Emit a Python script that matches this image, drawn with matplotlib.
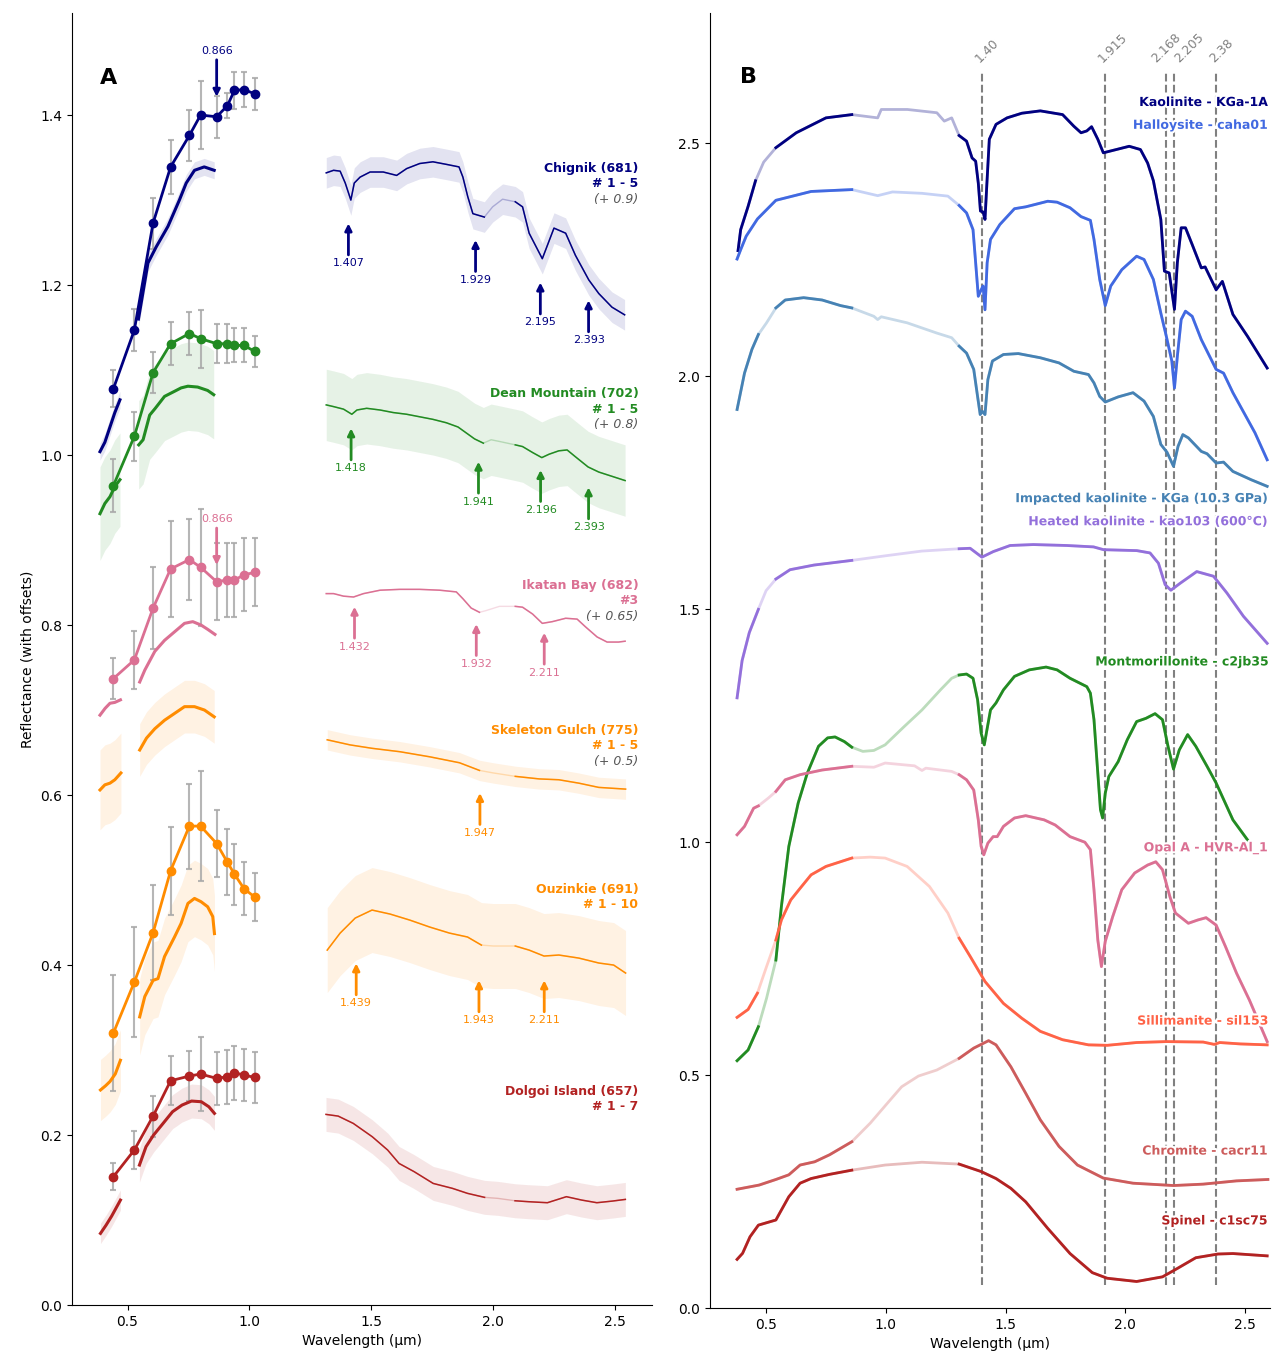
import matplotlib
matplotlib.use("Agg")
import matplotlib.pyplot as plt
import matplotlib.patheffects as pe
import numpy as np

# Mastcam-Z filter centres (um)
MZ_WL = [0.442, 0.528, 0.605, 0.677, 0.754, 0.800, 0.866, 0.910, 0.939, 0.978, 1.022]

# ---------------- panel A : field spectra (raw reflectance, offsets added when drawn)
# Chignik (681), # 1 - 5, +0.9
CHIG_MS = [0.178, 0.247, 0.373, 0.439, 0.476, 0.500, 0.498, 0.511, 0.529, 0.530, 0.525]
CHIG_ERR = [0.022, 0.025, 0.030, 0.032, 0.030, 0.040, 0.025, 0.015, 0.022, 0.021, 0.019]
CHIG_VIS1 = [(0.387, 0.104), (0.407, 0.115), (0.428, 0.133), (0.448, 0.150), (0.469, 0.165)]
CHIG_VIS2 = [(0.545, 0.260), (0.584, 0.326), (0.618, 0.345), (0.666, 0.369), (0.713, 0.400),
             (0.741, 0.420), (0.775, 0.435), (0.815, 0.439), (0.856, 0.435)]
CHIG_NIR = [(1.316, 0.432), (1.346, 0.435), (1.373, 0.434), (1.394, 0.420), (1.417, 0.400),
            (1.431, 0.420), (1.455, 0.427), (1.496, 0.433), (1.550, 0.433), (1.605, 0.429),
            (1.646, 0.437), (1.700, 0.443), (1.754, 0.445), (1.809, 0.442), (1.861, 0.439),
            (1.877, 0.427), (1.897, 0.404), (1.918, 0.384), (1.965, 0.380), (1.999, 0.392),
            (2.040, 0.401), (2.092, 0.398), (2.122, 0.392), (2.149, 0.361), (2.203, 0.331),
            (2.251, 0.367), (2.299, 0.361), (2.339, 0.335), (2.394, 0.306), (2.435, 0.290),
            (2.489, 0.274), (2.541, 0.265)]
CHIG_SD = (0.010, 0.010, 0.018)
CHIG_BANDS = [(1.407, 1.2725), (1.929, 1.253), (2.195, 1.203), (2.393, 1.182)]

# Dean Mountain (702), # 1 - 5, +0.8
DEAN_MS = [0.164, 0.222, 0.297, 0.331, 0.343, 0.337, 0.331, 0.331, 0.329, 0.329, 0.322]
DEAN_ERR = [0.031, 0.029, 0.024, 0.025, 0.025, 0.034, 0.023, 0.023, 0.020, 0.020, 0.018]
DEAN_VIS1 = [(0.387, 0.131), (0.407, 0.143), (0.428, 0.151), (0.448, 0.163), (0.469, 0.171)]
DEAN_VIS2 = [(0.546, 0.212), (0.564, 0.218), (0.591, 0.247), (0.614, 0.255), (0.652, 0.269),
             (0.693, 0.275), (0.720, 0.279), (0.748, 0.281), (0.788, 0.280), (0.829, 0.276),
             (0.854, 0.271)]
DEAN_NIR = [(1.316, 0.259), (1.346, 0.257), (1.387, 0.254), (1.421, 0.248), (1.442, 0.253),
            (1.482, 0.255), (1.537, 0.253), (1.591, 0.250), (1.646, 0.248), (1.700, 0.245),
            (1.754, 0.242), (1.809, 0.238), (1.857, 0.233), (1.891, 0.226), (1.925, 0.219),
            (1.961, 0.214), (1.993, 0.218), (2.027, 0.216), (2.092, 0.212), (2.122, 0.210),
            (2.163, 0.203), (2.201, 0.197), (2.231, 0.201), (2.271, 0.205), (2.305, 0.206),
            (2.339, 0.198), (2.391, 0.186), (2.435, 0.180), (2.489, 0.175), (2.543, 0.170)]
DEAN_SD = (0.055, 0.052, 0.042)
DEAN_BANDS = [(1.418, 1.0314), (1.941, 0.9922), (2.196, 0.9824), (2.393, 0.962)]

# Ikatan Bay (682), #3, +0.65
IKAT_MS = [0.087, 0.109, 0.170, 0.216, 0.227, 0.218, 0.201, 0.203, 0.203, 0.209, 0.212]
IKAT_ERR = [0.024, 0.034, 0.048, 0.057, 0.048, 0.069, 0.045, 0.043, 0.043, 0.043, 0.040]
IKAT_VIS1 = [(0.387, 0.044), (0.408, 0.052), (0.428, 0.058), (0.448, 0.059), (0.471, 0.062)]
IKAT_VIS2 = [(0.550, 0.083), (0.571, 0.097), (0.612, 0.119), (0.652, 0.132), (0.693, 0.142),
             (0.734, 0.152), (0.768, 0.154), (0.802, 0.150), (0.829, 0.145), (0.859, 0.139)]
IKAT_NIR = [(1.316, 0.187), (1.346, 0.187), (1.387, 0.184), (1.428, 0.183), (1.469, 0.187),
            (1.537, 0.191), (1.618, 0.192), (1.700, 0.192), (1.782, 0.191), (1.850, 0.189),
            (1.877, 0.181), (1.911, 0.170), (1.945, 0.165), (1.972, 0.167), (2.027, 0.172),
            (2.092, 0.172), (2.122, 0.171), (2.163, 0.163), (2.203, 0.152), (2.244, 0.154),
            (2.299, 0.158), (2.346, 0.157), (2.380, 0.148), (2.428, 0.136), (2.469, 0.130),
            (2.516, 0.130), (2.543, 0.131)]
IKAT_SD = (0.0, 0.0, 0.0)
IKAT_BANDS = [(1.432, 0.8216), (1.932, 0.8012), (2.211, 0.791)]

# Skeleton Gulch (775), # 1 - 5, +0.5 (no multispectral data)
SKEL_VIS1 = [(0.387, 0.106), (0.407, 0.112), (0.428, 0.114), (0.448, 0.118), (0.473, 0.126)]
SKEL_VIS2 = [(0.550, 0.153), (0.578, 0.167), (0.612, 0.178), (0.652, 0.188), (0.693, 0.196),
             (0.734, 0.204), (0.775, 0.204), (0.816, 0.200), (0.856, 0.192)]
SKEL_NIR = [(1.320, 0.165), (1.414, 0.159), (1.504, 0.155), (1.618, 0.151), (1.741, 0.145),
            (1.863, 0.138), (1.945, 0.129), (2.002, 0.126), (2.092, 0.122), (2.190, 0.119),
            (2.271, 0.118), (2.353, 0.114), (2.435, 0.109), (2.545, 0.107)]
SKEL_SD = (0.047, 0.031, 0.012)
SKEL_BANDS = [(1.947, 0.6024)]

# Ouzinkie (691), # 1 - 10
OUZI_MS = [0.320, 0.380, 0.438, 0.511, 0.5635, 0.5635, 0.543, 0.521, 0.507, 0.490, 0.480]
OUZI_ERR = [0.068, 0.065, 0.056, 0.052, 0.050, 0.065, 0.039, 0.039, 0.036, 0.031, 0.028]
OUZI_VIS1 = [(0.389, 0.253), (0.410, 0.258), (0.428, 0.263), (0.450, 0.272), (0.471, 0.288)]
OUZI_VIS2 = [(0.550, 0.339), (0.571, 0.363), (0.605, 0.382), (0.625, 0.384), (0.652, 0.410),
             (0.693, 0.433), (0.720, 0.449), (0.748, 0.4725), (0.775, 0.4784), (0.802, 0.4745),
             (0.829, 0.4686), (0.850, 0.457), (0.857, 0.437)]
OUZI_NIR = [(1.320, 0.4176), (1.373, 0.4376), (1.435, 0.4553), (1.504, 0.4647), (1.578, 0.460),
            (1.659, 0.4529), (1.741, 0.4447), (1.822, 0.4376), (1.896, 0.433), (1.953, 0.4235),
            (2.002, 0.4224), (2.092, 0.4224), (2.149, 0.4176), (2.210, 0.4106), (2.271, 0.4118),
            (2.353, 0.4082), (2.435, 0.4024), (2.496, 0.400), (2.545, 0.3906)]
OUZI_SD = (0.036, 0.045, 0.050)
OUZI_BANDS = [(1.439, 0.402), (1.943, 0.382), (2.211, 0.382)]

# Dolgoi Island (657), # 1 - 7
DOLG_MS = [0.151, 0.1824, 0.2223, 0.2639, 0.2694, 0.2718, 0.2667, 0.2686, 0.2733, 0.2706, 0.2678]
DOLG_ERR = [0.016, 0.022, 0.024, 0.029, 0.029, 0.043, 0.031, 0.032, 0.032, 0.031, 0.030]
DOLG_VIS1 = [(0.389, 0.0843), (0.412, 0.094), (0.435, 0.1047), (0.471, 0.1235)]
DOLG_VIS2 = [(0.549, 0.1647), (0.576, 0.1863), (0.607, 0.200), (0.646, 0.2137), (0.685, 0.2275),
             (0.724, 0.2353), (0.763, 0.240), (0.803, 0.2392), (0.834, 0.2333), (0.857, 0.2255)]
DOLG_NIR = [(1.315, 0.2243), (1.365, 0.2223), (1.427, 0.2137), (1.505, 0.198), (1.568, 0.1824),
            (1.615, 0.1666), (1.677, 0.1569), (1.755, 0.1431), (1.834, 0.1373), (1.896, 0.1314),
            (1.966, 0.1267), (2.021, 0.1255), (2.091, 0.1227), (2.146, 0.1216), (2.224, 0.1204),
            (2.302, 0.1275), (2.365, 0.1235), (2.427, 0.1204), (2.490, 0.1223), (2.544, 0.1243)]
DOLG_SD = (0.012, 0.020, 0.020)

# 0.866 um feature marked on the multispectral curves (arrow head y)
CHIG_866 = 1.4215
IKAT_866 = 0.8706

# ---------------- panel B : library spectra (with offsets already applied)
KAOLINITE = [(0.383, 2.270), (0.394, 2.315), (0.425, 2.365), (0.456, 2.420), (0.490, 2.460),
             (0.541, 2.491), (0.626, 2.523), (0.750, 2.555), (0.858, 2.562), (0.966, 2.555),
             (0.981, 2.573), (1.090, 2.573), (1.213, 2.566), (1.244, 2.548), (1.275, 2.555),
             (1.306, 2.517), (1.337, 2.505), (1.360, 2.469), (1.375, 2.462), (1.386, 2.415),
             (1.395, 2.355), (1.406, 2.353), (1.414, 2.337), (1.422, 2.415), (1.432, 2.509),
             (1.460, 2.541), (1.506, 2.555), (1.568, 2.565), (1.645, 2.570), (1.738, 2.562),
             (1.785, 2.537), (1.815, 2.523), (1.839, 2.527), (1.859, 2.536), (1.885, 2.509),
             (1.908, 2.480), (1.939, 2.484), (2.016, 2.494), (2.063, 2.487), (2.093, 2.458),
             (2.117, 2.420), (2.148, 2.337), (2.163, 2.226), (2.183, 2.222), (2.205, 2.144),
             (2.217, 2.244), (2.233, 2.319), (2.251, 2.319), (2.279, 2.283), (2.317, 2.233),
             (2.333, 2.235), (2.379, 2.186), (2.405, 2.204), (2.449, 2.133), (2.510, 2.086),
             (2.592, 2.018)]
HALLOYSITE = [(0.379, 2.252), (0.394, 2.272), (0.417, 2.301), (0.464, 2.338), (0.541, 2.378),
              (0.688, 2.397), (0.858, 2.401), (0.966, 2.388), (1.028, 2.396), (1.151, 2.393),
              (1.259, 2.387), (1.306, 2.367), (1.337, 2.351), (1.364, 2.315), (1.375, 2.244),
              (1.386, 2.172), (1.398, 2.186), (1.406, 2.194), (1.414, 2.143), (1.423, 2.244),
              (1.437, 2.294), (1.476, 2.326), (1.537, 2.360), (1.584, 2.364), (1.676, 2.376),
              (1.715, 2.374), (1.769, 2.362), (1.815, 2.343), (1.854, 2.335), (1.869, 2.294),
              (1.893, 2.208), (1.916, 2.152), (1.939, 2.194), (1.985, 2.229), (2.047, 2.258),
              (2.078, 2.251), (2.117, 2.208), (2.148, 2.136), (2.171, 2.086), (2.194, 2.033),
              (2.205, 1.975), (2.217, 2.043), (2.233, 2.122), (2.251, 2.140), (2.279, 2.129),
              (2.317, 2.079), (2.379, 2.015), (2.410, 2.007), (2.449, 1.965), (2.495, 1.922),
              (2.541, 1.879), (2.592, 1.821)]
IMPACTED = [(0.379, 1.929), (0.410, 2.007), (0.441, 2.058), (0.468, 2.090), (0.502, 2.115),
            (0.541, 2.147), (0.580, 2.164), (0.657, 2.169), (0.734, 2.164), (0.811, 2.152),
            (0.858, 2.147), (0.950, 2.129), (0.966, 2.122), (0.981, 2.128), (1.089, 2.115),
            (1.213, 2.093), (1.275, 2.083), (1.306, 2.065), (1.337, 2.050), (1.367, 2.015),
            (1.383, 1.957), (1.394, 1.918), (1.403, 1.925), (1.414, 1.918), (1.426, 1.993),
            (1.445, 2.033), (1.491, 2.047), (1.553, 2.049), (1.645, 2.040), (1.723, 2.029),
            (1.785, 2.011), (1.846, 2.004), (1.869, 1.986), (1.893, 1.957), (1.916, 1.945),
            (1.970, 1.956), (2.032, 1.965), (2.078, 1.947), (2.117, 1.914), (2.148, 1.854),
            (2.174, 1.837), (2.201, 1.807), (2.220, 1.850), (2.240, 1.875), (2.263, 1.868),
            (2.317, 1.839), (2.341, 1.834), (2.379, 1.814), (2.410, 1.816), (2.449, 1.796),
            (2.526, 1.778), (2.592, 1.764)]
HEATED = [(0.379, 1.310), (0.400, 1.390), (0.430, 1.450), (0.468, 1.500), (0.500, 1.540),
          (0.541, 1.565), (0.600, 1.585), (0.700, 1.595), (0.858, 1.605), (1.000, 1.615),
          (1.150, 1.625), (1.306, 1.630), (1.352, 1.631), (1.401, 1.612), (1.449, 1.624),
          (1.519, 1.637), (1.616, 1.639), (1.755, 1.637), (1.867, 1.634), (1.909, 1.628),
          (2.048, 1.626), (2.103, 1.621), (2.138, 1.599), (2.166, 1.553), (2.190, 1.541),
          (2.229, 1.556), (2.298, 1.581), (2.368, 1.571), (2.424, 1.535), (2.493, 1.485),
          (2.592, 1.427)]
MONTMORILLONITE = [(0.379, 0.531), (0.425, 0.554), (0.468, 0.604), (0.502, 0.665), (0.541, 0.747),
                   (0.564, 0.862), (0.595, 0.991), (0.634, 1.084), (0.672, 1.148), (0.719, 1.206),
                   (0.757, 1.224), (0.788, 1.226), (0.827, 1.216), (0.858, 1.204), (0.904, 1.195),
                   (0.950, 1.197), (0.997, 1.209), (1.074, 1.247), (1.151, 1.284), (1.228, 1.327),
                   (1.275, 1.352), (1.306, 1.359), (1.337, 1.361), (1.364, 1.352), (1.383, 1.306),
                   (1.398, 1.234), (1.411, 1.209), (1.422, 1.241), (1.437, 1.284), (1.460, 1.299),
                   (1.491, 1.327), (1.537, 1.356), (1.599, 1.370), (1.669, 1.376), (1.715, 1.370),
                   (1.769, 1.352), (1.839, 1.334), (1.854, 1.320), (1.869, 1.263), (1.885, 1.148),
                   (1.896, 1.070), (1.905, 1.052), (1.916, 1.105), (1.931, 1.141), (1.970, 1.173),
                   (2.008, 1.220), (2.047, 1.259), (2.086, 1.266), (2.124, 1.276), (2.155, 1.263),
                   (2.178, 1.206), (2.201, 1.157), (2.225, 1.198), (2.260, 1.231), (2.294, 1.206),
                   (2.341, 1.163), (2.379, 1.127), (2.449, 1.048), (2.510, 1.005)]
OPAL = [(0.379, 1.016), (0.410, 1.034), (0.448, 1.073), (0.468, 1.078), (0.510, 1.095),
        (0.541, 1.109), (0.580, 1.134), (0.642, 1.145), (0.734, 1.155), (0.858, 1.163),
        (0.950, 1.161), (0.966, 1.164), (0.997, 1.170), (1.120, 1.164), (1.151, 1.154),
        (1.167, 1.159), (1.275, 1.152), (1.306, 1.145), (1.337, 1.134), (1.367, 1.112),
        (1.386, 1.048), (1.398, 0.991), (1.409, 0.973), (1.426, 0.998), (1.448, 1.012),
        (1.465, 1.012), (1.491, 1.034), (1.537, 1.052), (1.584, 1.057), (1.661, 1.048),
        (1.707, 1.037), (1.769, 1.012), (1.831, 1.000), (1.854, 0.984), (1.869, 0.898),
        (1.885, 0.790), (1.900, 0.733), (1.916, 0.787), (1.947, 0.840), (1.985, 0.898),
        (2.039, 0.934), (2.093, 0.951), (2.127, 0.958), (2.155, 0.941), (2.186, 0.883),
        (2.209, 0.848), (2.263, 0.826), (2.302, 0.833), (2.337, 0.838), (2.379, 0.822),
        (2.418, 0.776), (2.464, 0.719), (2.518, 0.661), (2.592, 0.572)]
SILLIMANITE = [(0.379, 0.624), (0.425, 0.641), (0.464, 0.676), (0.500, 0.730), (0.541, 0.790),
               (0.564, 0.833), (0.603, 0.876), (0.642, 0.901), (0.688, 0.930), (0.750, 0.948),
               (0.858, 0.966), (0.935, 0.968), (0.997, 0.966), (1.089, 0.948), (1.182, 0.905),
               (1.259, 0.848), (1.306, 0.794), (1.352, 0.755), (1.414, 0.701), (1.491, 0.654),
               (1.568, 0.622), (1.645, 0.594), (1.738, 0.576), (1.846, 0.565), (1.924, 0.564),
               (2.047, 0.570), (2.171, 0.572), (2.325, 0.571), (2.371, 0.566), (2.394, 0.570),
               (2.480, 0.567), (2.592, 0.565)]
CHROMITE = [(0.379, 0.255), (0.471, 0.264), (0.541, 0.276), (0.595, 0.286), (0.642, 0.307),
            (0.703, 0.314), (0.765, 0.329), (0.858, 0.357), (0.935, 0.397), (1.012, 0.443),
            (1.066, 0.475), (1.136, 0.498), (1.213, 0.511), (1.306, 0.536), (1.367, 0.558),
            (1.429, 0.574), (1.460, 0.565), (1.522, 0.518), (1.584, 0.461), (1.645, 0.404),
            (1.723, 0.347), (1.800, 0.307), (1.908, 0.279), (2.032, 0.268), (2.201, 0.263),
            (2.325, 0.266), (2.464, 0.273), (2.595, 0.276)]
SPINEL = [(0.379, 0.1045), (0.402, 0.1175), (0.433, 0.153), (0.468, 0.178), (0.541, 0.189),
          (0.556, 0.203), (0.595, 0.239), (0.642, 0.268), (0.688, 0.278), (0.765, 0.287),
          (0.858, 0.296), (0.997, 0.307), (1.151, 0.313), (1.306, 0.309), (1.398, 0.293),
          (1.460, 0.278), (1.522, 0.257), (1.584, 0.228), (1.676, 0.171), (1.769, 0.117),
          (1.862, 0.076), (1.924, 0.064), (2.047, 0.057), (2.155, 0.067), (2.217, 0.085),
          (2.294, 0.108), (2.387, 0.116), (2.449, 0.117), (2.592, 0.112)]

LIB_NAMES = ["Kaolinite - KGa-1A", "Halloysite - caha01", "Impacted kaolinite - KGa (10.3 GPa)",
             "Heated kaolinite - kao103 (600°C)", "Montmorillonite - c2jb35", "Opal A - HVR-Al_1",
             "Sillimanite - sil153", "Chromite - cacr11", "Spinel - c1sc75"]
LIB_LABEL_Y = [2.588, 2.539, 1.7375, 1.688, 1.387, 0.988, 0.616, 0.337, 0.187]
FEATURES = [1.40, 1.915, 2.168, 2.205, 2.38]
FEATURE_TXT = ["1.40", "1.915", "2.168", "2.205", "2.38"]
FEATURE_NUDGE = [0.0, 0.0, -0.03, 0.03, 0.0]   # keep the two close labels apart

# ---------------------------------------------------------------------------
sites = [
    dict(vis1=CHIG_VIS1, vis2=CHIG_VIS2, nir=CHIG_NIR, sd=CHIG_SD, ms=CHIG_MS, err=CHIG_ERR,
         off=0.9, c="navy", bands=CHIG_BANDS,
         txt=[("Chignik (681)", "bold"), ("# 1 - 5", "bold"), ("(+ 0.9)", "italic")], ty=1.3376),
    dict(vis1=DEAN_VIS1, vis2=DEAN_VIS2, nir=DEAN_NIR, sd=DEAN_SD, ms=DEAN_MS, err=DEAN_ERR,
         off=0.8, c="forestgreen", bands=DEAN_BANDS,
         txt=[("Dean Mountain (702)", "bold"), ("# 1 - 5", "bold"), ("(+ 0.8)", "italic")], ty=1.0726),
    dict(vis1=IKAT_VIS1, vis2=IKAT_VIS2, nir=IKAT_NIR, sd=IKAT_SD, ms=IKAT_MS, err=IKAT_ERR,
         off=0.65, c="palevioletred", bands=IKAT_BANDS,
         txt=[("Ikatan Bay (682)", "bold"), ("#3", "bold"), ("(+ 0.65)", "italic")], ty=0.8471),
    dict(vis1=SKEL_VIS1, vis2=SKEL_VIS2, nir=SKEL_NIR, sd=SKEL_SD, ms=None, err=None,
         off=0.5, c="darkorange", bands=SKEL_BANDS,
         txt=[("Skeleton Gulch (775)", "bold"), ("# 1 - 5", "bold"), ("(+ 0.5)", "italic")], ty=0.6765),
    dict(vis1=OUZI_VIS1, vis2=OUZI_VIS2, nir=OUZI_NIR, sd=OUZI_SD, ms=OUZI_MS, err=OUZI_ERR,
         off=0.0, c="darkorange", bands=OUZI_BANDS,
         txt=[("Ouzinkie (691)", "bold"), ("# 1 - 10", "bold")], ty=0.4894),
    dict(vis1=DOLG_VIS1, vis2=DOLG_VIS2, nir=DOLG_NIR, sd=DOLG_SD, ms=DOLG_MS, err=DOLG_ERR,
         off=0.0, c="firebrick", bands=[],
         txt=[("Dolgoi Island (657)", "bold"), ("# 1 - 7", "bold")], ty=0.2518),
]

fig = plt.figure(figsize=(12.83, 13.6), dpi=100)
axA = fig.add_axes([0.0561, 0.0404, 0.452, 0.95])
axB = fig.add_axes([0.5534, 0.0382, 0.4365, 0.9522])

for s in sites:
    c, off = s["c"], s["off"]
    for seg, sd in ((s["vis1"], s["sd"][0]), (s["vis2"], s["sd"][1])):
        w, r = np.array(seg).T
        r = r + off
        if sd > 0:
            axA.fill_between(w, r - sd, r + sd, color=c, alpha=0.11, lw=0)
        axA.plot(w, r, color=c, lw=2.2, zorder=3)
    w, r = np.array(s["nir"]).T
    r = r + off
    if s["sd"][2] > 0:
        axA.fill_between(w, r - s["sd"][2], r + s["sd"][2], color=c, alpha=0.11, lw=0)
    axA.plot(w, r, color=c, lw=1, alpha=0.25, zorder=3)
    axA.plot(w, np.where((w > 1.97) & (w < 2.09), np.nan, r), color=c, lw=1.1, zorder=3)

    if s["ms"] is not None:
        ms = np.array(s["ms"]) + off
        axA.errorbar(MZ_WL, ms, yerr=s["err"], fmt="none", ecolor="darkgray",
                     elinewidth=1.5, capsize=2.5, capthick=1.5, alpha=0.85, zorder=2)
        axA.plot(MZ_WL, ms, "-o", color=c, lw=2, ms=6, zorder=4)

    for wl, head in s["bands"]:
        axA.annotate("", xy=(wl, head), xytext=(wl, head - 0.037),
                     arrowprops=dict(arrowstyle="-|>", color=c, lw=2, mutation_scale=10,
                                     shrinkA=0, shrinkB=0))
        axA.text(wl, head - 0.041, f"{wl:.3f}", ha="center", va="top", fontsize=8, color=c)

    for i, (t, style) in enumerate(s["txt"]):
        if style == "bold":
            axA.text(2.598, s["ty"] - i * 0.0185, t, ha="right", va="center", fontsize=9,
                     fontweight="bold", color=c)
        else:
            axA.text(2.598, s["ty"] - i * 0.0185, t, ha="right", va="center", fontsize=9,
                     fontstyle="italic", color="#555555")

# 0.866 um arrows
for head, c in ((CHIG_866, "navy"), (IKAT_866, "palevioletred")):
    axA.annotate("", xy=(0.866, head), xytext=(0.866, head + 0.0435),
                 arrowprops=dict(arrowstyle="-|>", color=c, lw=2, mutation_scale=10,
                                 shrinkA=0, shrinkB=0), zorder=5)
    axA.text(0.866, head + 0.048, "0.866", ha="center", va="bottom", fontsize=8, color=c)

axA.set_xlim(0.272, 2.653)
axA.set_ylim(0, 1.52)
axA.set_xlabel("Wavelength (µm)", fontsize=10)
axA.set_ylabel("Reflectance (with offsets)", fontsize=10)
axA.text(0.048, 0.95, "A", transform=axA.transAxes, fontsize=16, fontweight="bold", va="center")

# ---------------- panel B
libs = [KAOLINITE, HALLOYSITE, IMPACTED, HEATED, MONTMORILLONITE, OPAL, SILLIMANITE, CHROMITE, SPINEL]
lib_colors = ["navy", "royalblue", "steelblue", "mediumpurple", "forestgreen",
              "palevioletred", "tomato", "indianred", "firebrick"]

for f, t, dx in zip(FEATURES, FEATURE_TXT, FEATURE_NUDGE):
    axB.plot([f, f], [0.05, 2.652], ls="--", color="gray", lw=1.5, zorder=1)
    axB.text(f + dx, 2.668, t, rotation=45, rotation_mode="anchor", ha="left", va="bottom",
             fontsize=9, color="gray")

halo = [pe.withStroke(linewidth=3, foreground="white")]
for spec, c, name, ly in zip(libs, lib_colors, LIB_NAMES, LIB_LABEL_Y):
    w, r = np.array(spec).T
    gap = ((w > 0.475) & (w < 0.538)) | ((w > 0.86) & (w < 1.30))
    axB.plot(w, r, color=c, lw=2, alpha=0.3, zorder=2)
    axB.plot(w, np.where(gap, np.nan, r), color=c, lw=2, zorder=3)
    axB.text(2.592, ly, name, ha="right", va="center", fontsize=9, fontweight="bold", color=c,
             path_effects=halo, zorder=5)

axB.set_xlim(0.266, 2.604)
axB.set_ylim(0, 2.78)
axB.set_xlabel("Wavelength (µm)", fontsize=10)
axB.text(0.054, 0.951, "B", transform=axB.transAxes, fontsize=16, fontweight="bold", va="center")

for ax in (axA, axB):
    ax.spines["top"].set_visible(False)
    ax.spines["right"].set_visible(False)

fig.savefig("out.png", dpi=100)
